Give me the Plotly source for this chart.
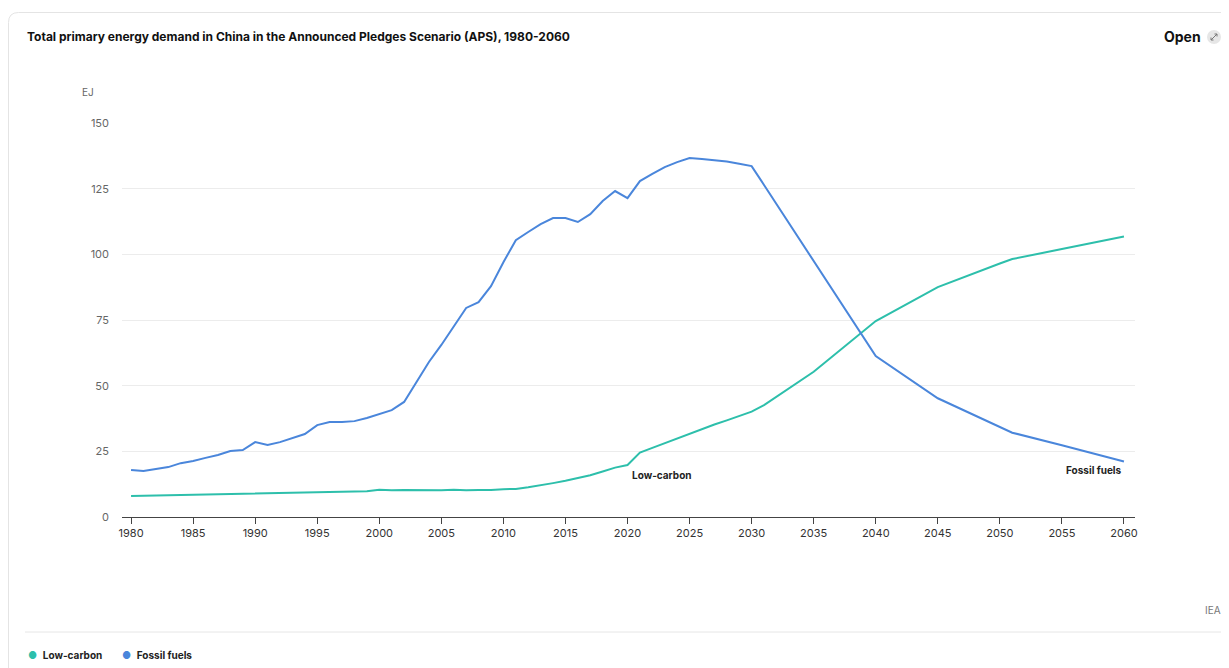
import plotly.graph_objects as go

years = list(range(1980, 2032)) + [2035, 2040, 2045, 2050, 2051, 2055, 2060]

low_carbon = [
    8.0, 8.1, 8.2, 8.3, 8.3, 8.4, 8.5, 8.6, 8.7, 8.8,
    9.0, 9.1, 9.2, 9.3, 9.4, 9.6, 9.7, 9.8, 9.7, 9.8,
    10.4, 10.2, 10.3, 10.2, 10.2, 10.2, 10.4, 10.2, 10.3, 10.3,
    10.6, 10.7, 11.3, 12.0, 12.9, 13.8, 14.8, 15.9, 17.3, 18.8,
    19.8, 24.5, 26.3, 28.1, 30.0, 31.9, 33.6, 35.2, 36.8, 38.4,
    40.1, 42.6, 55.3, 74.6, 87.5, 96.5, 98.2, 102.0, 106.8,
]

fossil = [
    17.9, 17.5, 18.3, 19.0, 20.5, 21.3, 22.5, 23.6, 25.1, 25.5,
    28.5, 27.4, 28.5, 30.0, 31.6, 35.0, 36.2, 36.2, 36.5, 37.7,
    39.2, 40.7, 43.8, 51.4, 59.0, 65.5, 72.3, 79.6, 81.8, 87.9,
    97.0, 105.4, 108.5, 111.5, 113.8, 113.8, 112.3, 115.3, 120.3, 124.1,
    121.4, 127.9, 130.6, 133.2, 135.1, 136.7, 136.3, 135.9, 135.3, 134.5,
    133.6, 126.4, 97.5, 61.3, 45.2, 34.3, 32.1, 27.3, 21.1,
]

y_ticks = [0, 25, 50, 75, 100, 125, 150]
x_ticks = list(range(1980, 2061, 5))

C_LOW = "#2dbfab"
C_FOS = "#4a86db"
FONT = "Inter, Roboto, Arial, sans-serif"

OFF = 8  # default page body margin
W, H = 1229 - OFF, 668 - OFF
L, R, T, B = 122 - OFF, 94, 123 - OFF, 151
PW, PH = W - L - R, H - T - B


def px(xp):
    return (xp - OFF - L) / PW


def py(yp):
    return (H - B - (yp - OFF)) / PH


fig = go.Figure()
fig.add_trace(go.Scatter(x=years, y=low_carbon, mode="lines", name="Low-carbon",
                         line=dict(color=C_LOW, width=2), showlegend=False))
fig.add_trace(go.Scatter(x=years, y=fossil, mode="lines", name="Fossil fuels",
                         line=dict(color=C_FOS, width=2), showlegend=False))

fig.update_layout(
    width=W, height=H,
    margin=dict(l=L, r=R, t=T, b=B),
    paper_bgcolor="white", plot_bgcolor="white",
    font=dict(family=FONT, color="#222"),
    xaxis=dict(range=[1979.27, 2060.89], tickvals=x_ticks, showgrid=False,
               showline=True, linecolor="#444", linewidth=1,
               ticks="outside", ticklen=6, tickcolor="#444",
               tickfont=dict(size=11, color="#333"), zeroline=False, fixedrange=True),
    yaxis=dict(range=[0, 150], tickvals=y_ticks, showgrid=True, gridcolor="#ececec",
               gridwidth=1, zeroline=False, showline=False, ticks="",
               tickfont=dict(size=11, color="#666"), ticklabelstandoff=12, fixedrange=True),
    hovermode="x unified",
)

x0, y0 = px(8.5), py(12.5)
x1, y1 = px(1240), py(680)
rx, ry = 10 / PW, 10 / PH
fig.add_shape(type="path", xref="paper", yref="paper", layer="below",
              path=f"M {x0} {y1} L {x0} {y0 - ry} Q {x0} {y0} {x0 + rx} {y0} L {x1} {y0}",
              line=dict(color="#e4e4e4", width=1))
fig.add_shape(type="line", xref="paper", yref="paper", layer="below",
              x0=px(25), x1=px(1229), y0=py(632), y1=py(632),
              line=dict(color="#e6e6e6", width=1))

anns = [
    dict(text="<b>Total primary energy demand in China in the Announced Pledges Scenario (APS), 1980-2060</b>",
         x=px(25), y=py(36), xanchor="left", yanchor="middle", font=dict(size=12, color="#111")),
    dict(text="<b>Open</b>", x=px(1203), y=py(36), xanchor="right", yanchor="middle",
         font=dict(size=14, color="#111")),
    dict(text="EJ", x=px(80), y=py(92), xanchor="left", yanchor="middle",
         font=dict(size=10, color="#666")),
    dict(text="IEA", x=px(1223), y=py(610), xanchor="right", yanchor="middle",
         font=dict(size=10, color="#777")),
    dict(text="<b>Low-carbon</b>", x=px(630), y=py(475), xanchor="left", yanchor="middle",
         font=dict(size=10, color="#222")),
    dict(text="<b>Fossil fuels</b>", x=px(1124), y=py(470), xanchor="right", yanchor="middle",
         font=dict(size=10, color="#222")),
    dict(text=f'<span style="color:{C_LOW}">●</span>  <b>Low-carbon</b>', x=px(26), y=py(655),
         xanchor="left", yanchor="middle", font=dict(size=10, color="#222")),
    dict(text=f'<span style="color:{C_FOS}">●</span>  <b>Fossil fuels</b>', x=px(120), y=py(655),
         xanchor="left", yanchor="middle", font=dict(size=10, color="#222")),
]
for a in anns:
    a.update(xref="paper", yref="paper", showarrow=False)
    fig.add_annotation(**a)

# "open" icon: grey disc with a small diagonal double arrow
fig.add_shape(type="circle", xref="paper", yref="paper",
              x0=px(1207), x1=px(1221), y0=py(30), y1=py(44),
              fillcolor="#e6e6e6", line=dict(width=0))
icon_lines = [
    (1211, 40, 1217, 34),
    (1217, 34, 1214.5, 34), (1217, 34, 1217, 36.5),
    (1211, 40, 1213.5, 40), (1211, 40, 1211, 37.5),
]
for ax0, ay0, ax1, ay1 in icon_lines:
    fig.add_shape(type="line", xref="paper", yref="paper",
                  x0=px(ax0), y0=py(ay0), x1=px(ax1), y1=py(ay1),
                  line=dict(color="#777", width=1))

fig.write_html("out.html")
